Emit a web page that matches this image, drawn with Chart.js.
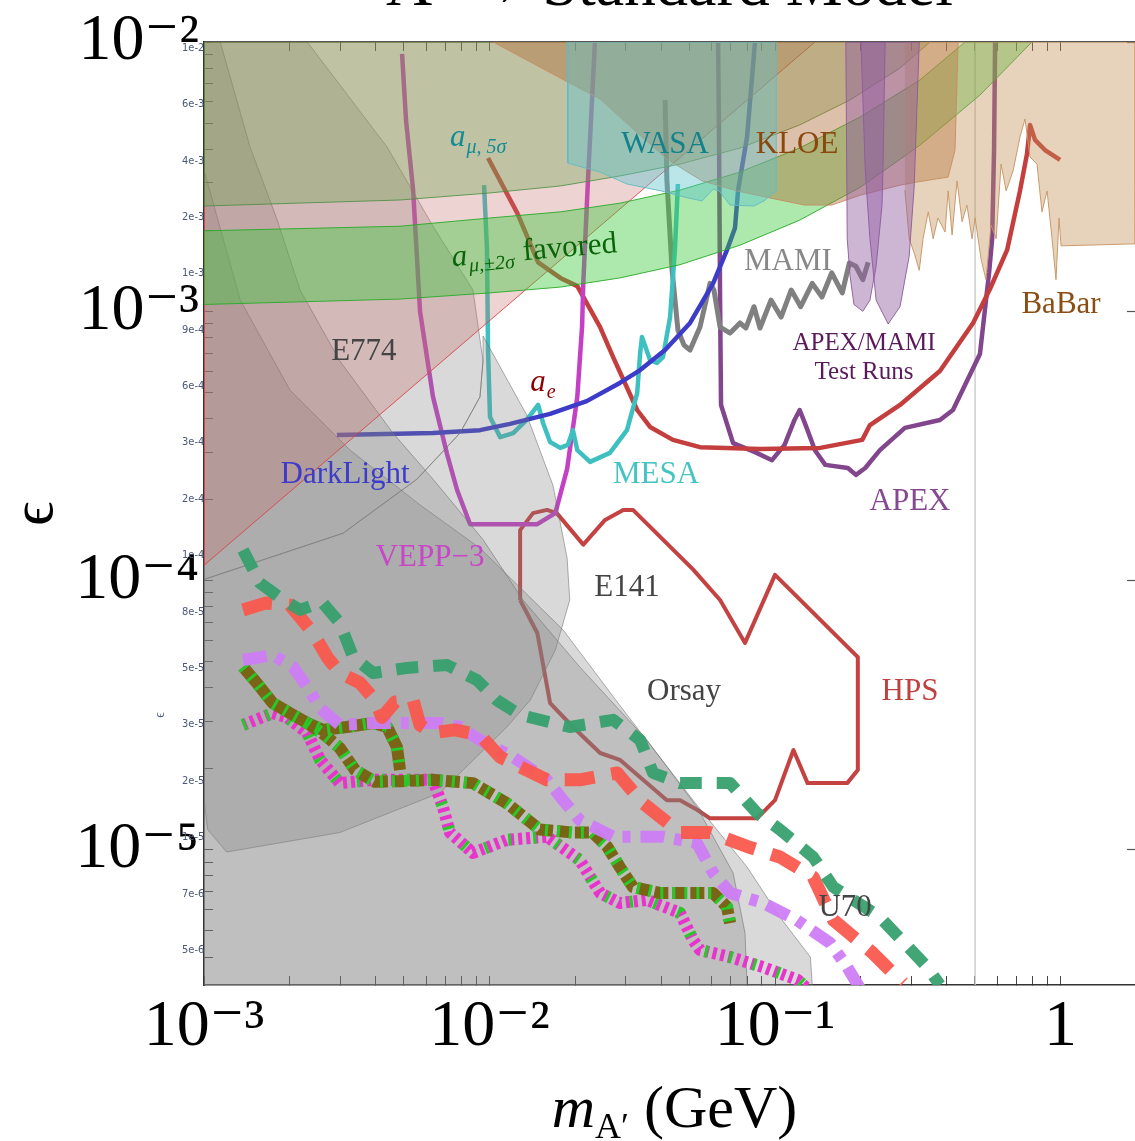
<!DOCTYPE html>
<html>
<head>
<meta charset="utf-8">
<script src="https://cdn.jsdelivr.net/npm/chart.js@4.4.0/dist/chart.umd.min.js"></script>
<style>
html, body { margin: 0; padding: 0; background: #fff; }
#wrap { width: 1135px; height: 1141px; position: relative; }
</style>
</head>
<body>
<div id="wrap"><canvas id="chart"></canvas></div>
<script>
const SERIF = "'Liberation Serif', 'Times New Roman', 'DejaVu Serif', serif";

// axis ranges (GeV, epsilon)
const M_MIN = 1e-3, M_MAX = 1.823;
const EPS_MIN = 3.15e-6, EPS_MAX = 1e-2;
const INSET_LABELS = ['1e-2', '6e-3', '4e-3', '2e-3', '1e-3', '9e-4', '6e-4', '3e-4', '2e-4', '1e-4', '8e-5', '5e-5', '3e-5', '2e-5', '1e-5', '7e-6', '5e-6'];
const INSET_MIN = -0.106, INSET_MAX = 16.62;

// excluded regions
const E774_M = [1e-3, 2.30e-3, 4.38e-3, 6.34e-3, 8.75e-3, 9.49e-3, 9.26e-3, 7.88e-3, 5.57e-3, 3.07e-3, 1e-3];
const E774_EPS = [1e-2, 1e-2, 4.07e-3, 2.07e-3, 1.20e-3, 6.54e-4, 4.81e-4, 3.53e-4, 2.38e-4, 1.50e-4, 1.01e-4];
const ORSAY_M = [1e-3, 1.14e-3, 1.45e-3, 1.80e-3, 2.17e-3, 2.99e-3, 4.59e-3, 6.34e-3, 9.49e-3, 1.31e-2, 2.07e-2, 3.56e-2, 5.33e-2, 7.13e-2, 7.85e-2, 7.98e-2, 1e-3];
const ORSAY_EPS = [1e-2, 1e-2, 4.07e-3, 2.20e-3, 1.20e-3, 6.54e-4, 3.53e-4, 2.38e-4, 1.42e-4, 8.47e-5, 4.78e-5, 2.56e-5, 1.44e-5, 8.21e-6, 4.91e-6, 3.15e-6, 3.15e-6];
const U70_M = [1e-3, 1.34e-3, 2.0e-3, 3.25e-3, 5.71e-3, 9.26e-3, 1.81e-2, 2.94e-2, 5.16e-2, 7.98e-2, 0.104, 0.133, 0.135, 1e-3];
const U70_EPS = [3.35e-3, 1.10e-3, 5.10e-4, 3.05e-4, 1.91e-4, 1.32e-4, 6.56e-5, 3.31e-5, 1.53e-5, 8.64e-6, 5.63e-6, 4.0e-6, 3.15e-6, 3.15e-6];
const E141_M = [9.49e-3, 1.35e-2, 1.67e-2, 1.87e-2, 1.91e-2, 1.70e-2, 1.39e-2, 1.15e-2, 6.71e-3, 2.99e-3, 1.20e-3, 1.03e-3, 1e-3, 1e-3, 3.07e-3, 5.57e-3, 7.88e-3, 9.26e-3, 9.49e-3];
const E141_EPS = [8.10e-4, 4.12e-4, 2.25e-4, 1.21e-4, 8.47e-5, 5.52e-5, 3.60e-5, 2.86e-5, 1.63e-5, 1.16e-5, 9.82e-6, 1.19e-5, 1.53e-5, 1.01e-4, 1.50e-4, 2.38e-4, 3.53e-4, 4.81e-4, 6.54e-4];
const AE_M = [1e-3, 0.138, 1e-3];
const AE_EPS = [1.14e-4, 1e-2, 1e-2];
const AMU5_M = [1e-3, 4.86e-3, 1e-2, 1.77e-2, 2.86e-2, 4.65e-2, 7.54e-2, 0.122, 0.183, 0.274, 0.349];
const AMU5_EPS = [2.46e-3, 2.59e-3, 2.75e-3, 2.92e-3, 3.18e-3, 3.52e-3, 4.04e-3, 4.92e-3, 6.09e-3, 8.0e-3, 1e-2];
const AMU2_UP_M = [1e-3, 4.86e-3, 1e-2, 1.77e-2, 2.86e-2, 4.65e-2, 7.54e-2, 0.122, 0.199, 0.322, 0.463];
const AMU2_UP_EPS = [1.99e-3, 2.07e-3, 2.22e-3, 2.34e-3, 2.52e-3, 2.82e-3, 3.29e-3, 4.04e-3, 5.27e-3, 7.23e-3, 1e-2];
const AMU2_LO_M = [1e-3, 4.86e-3, 1e-2, 1.77e-2, 2.86e-2, 4.65e-2, 7.54e-2, 0.122, 0.199, 0.322, 0.522, 0.794];
const AMU2_LO_EPS = [1.06e-3, 1.11e-3, 1.17e-3, 1.23e-3, 1.33e-3, 1.49e-3, 1.76e-3, 2.18e-3, 2.89e-3, 4.14e-3, 6.35e-3, 1e-2];
const KLOE_M = [1.03e-2, 1.50e-2, 1.91e-2, 2.44e-2, 3.21e-2, 4.22e-2, 5.55e-2, 7.36e-2, 9.68e-2, 0.127, 0.158, 0.199, 0.274, 0.314, 0.404, 0.427, 0.438];
const KLOE_EPS = [1e-2, 8.07e-3, 7.04e-3, 6.14e-3, 4.71e-3, 3.65e-3, 3.05e-3, 2.80e-3, 2.63e-3, 2.48e-3, 2.48e-3, 2.70e-3, 2.94e-3, 3.02e-3, 3.15e-3, 3.97e-3, 1e-2];
const WASA_M = [1.88e-2, 1.88e-2, 2.44e-2, 3.03e-2, 3.99e-2, 5.0e-2, 5.55e-2, 6.07e-2, 6.37e-2, 6.96e-2, 8.44e-2, 9.15e-2, 0.101, 0.101];
const WASA_EPS = [1e-2, 3.55e-3, 3.29e-3, 2.97e-3, 2.80e-3, 2.63e-3, 2.57e-3, 2.84e-3, 2.80e-3, 2.48e-3, 2.46e-3, 2.57e-3, 2.80e-3, 1e-2];
const BABAR_M = [0.285, 0.295, 0.307, 0.320, 0.330, 0.344, 0.358, 0.372, 0.394, 0.404, 0.417, 0.434, 0.452, 0.470, 0.490, 0.502, 0.527, 0.548, 0.571, 0.595, 0.619, 0.645, 0.682, 0.721, 0.751, 0.782, 0.827, 0.861, 0.897, 0.934, 0.964, 0.988, 1.004, 1.82, 1.82, 0.285];
const BABAR_EPS = [2.82e-3, 1.86e-3, 1.65e-3, 1.42e-3, 1.86e-3, 2.34e-3, 1.86e-3, 2.22e-3, 1.97e-3, 2.80e-3, 1.92e-3, 3.05e-3, 2.15e-3, 2.48e-3, 1.86e-3, 2.22e-3, 1.56e-3, 1.31e-3, 2.09e-3, 1.86e-3, 3.52e-3, 2.80e-3, 3.32e-3, 4.44e-3, 5.18e-3, 3.74e-3, 3.52e-3, 2.34e-3, 2.80e-3, 1.86e-3, 1.31e-3, 2.22e-3, 1.75e-3, 1.78e-3, 1e-2, 1e-2];
const APEX_TEST_M = [0.177, 0.179, 0.183, 0.189, 0.203, 0.215, 0.226, 0.237, 0.239, 0.243];
const APEX_TEST_EPS = [1e-2, 1.86e-3, 1.36e-3, 1.06e-3, 1.0e-3, 1.10e-3, 1.47e-3, 2.48e-3, 3.52e-3, 1e-2];
const MAMI_TEST_M = [0.200, 0.207, 0.215, 0.226, 0.249, 0.274, 0.295, 0.307, 0.320];
const MAMI_TEST_EPS = [1e-2, 3.32e-3, 1.86e-3, 1.10e-3, 8.97e-4, 1.04e-3, 1.60e-3, 2.87e-3, 1e-2];

// experiment reach curves
const DL_M = [2.92e-3, 6.34e-3, 9.26e-3, 1.18e-2, 1.63e-2, 2.19e-2, 2.86e-2, 3.37e-2, 4.12e-2, 5.04e-2, 6.07e-2, 6.79e-2, 7.24e-2, 7.42e-2, 7.98e-2, 8.51e-2];
const DL_EPS = [3.47e-4, 3.53e-4, 3.62e-4, 3.82e-4, 4.16e-4, 4.64e-4, 5.42e-4, 6.05e-4, 7.18e-4, 9.05e-4, 1.27e-3, 1.69e-3, 2.04e-3, 2.80e-3, 4.44e-3, 1e-2];
const MESA_M = [9.57e-3, 9.80e-3, 9.88e-3, 1.004e-2, 1.09e-2, 1.21e-2, 1.35e-2, 1.48e-2, 1.54e-2, 1.63e-2, 1.77e-2, 1.88e-2, 1.96e-2, 2.03e-2, 2.25e-2, 2.64e-2, 3.03e-2, 3.29e-2, 3.37e-2, 3.42e-2, 3.65e-2, 3.86e-2, 4.05e-2, 4.29e-2, 4.46e-2, 4.57e-2];
const MESA_EPS = [2.94e-3, 1.69e-3, 7.18e-4, 4.05e-4, 3.41e-4, 3.53e-4, 3.95e-4, 4.49e-4, 3.85e-4, 3.27e-4, 3.11e-4, 3.19e-4, 3.62e-4, 3.05e-4, 2.76e-4, 2.98e-4, 3.62e-4, 4.97e-4, 7.00e-4, 8.03e-4, 6.59e-4, 6.43e-4, 6.76e-4, 9.52e-4, 1.69e-3, 2.97e-3];
const VEPP_M = [4.94e-3, 5.10e-3, 5.40e-3, 5.71e-3, 6.34e-3, 7.10e-3, 7.70e-3, 8.55e-3, 1.47e-2, 1.70e-2, 1.87e-2, 2.03e-2, 2.11e-2, 2.13e-2, 2.21e-2, 2.34e-2];
const VEPP_EPS = [9.03e-3, 5.13e-3, 2.82e-3, 1.0e-3, 4.81e-4, 2.95e-4, 2.17e-4, 1.62e-4, 1.62e-4, 1.78e-4, 2.60e-4, 4.81e-4, 8.82e-4, 1.27e-3, 3.0e-3, 1e-2];
const HPS_TOP_M = [9.88e-3, 1.25e-2, 1.48e-2, 1.77e-2, 2.03e-2, 2.44e-2, 2.71e-2, 3.29e-2, 3.65e-2, 4.39e-2, 5.46e-2, 8.86e-2, 0.144, 0.202, 0.215, 0.274, 0.378, 0.494, 0.566, 0.650, 0.721, 0.763, 0.782, 0.814, 0.882, 0.996];
const HPS_TOP_EPS = [3.71e-3, 2.32e-3, 1.52e-3, 1.33e-3, 1.24e-3, 8.74e-4, 6.76e-4, 4.30e-4, 3.72e-4, 3.33e-4, 3.13e-4, 3.08e-4, 3.11e-4, 3.33e-4, 3.78e-4, 4.49e-4, 6.0e-4, 9.05e-4, 1.21e-3, 1.69e-3, 2.80e-3, 3.84e-3, 4.92e-3, 4.33e-3, 3.97e-3, 3.65e-3];
const HPS_M = [1.28e-2, 1.28e-2, 1.42e-2, 1.59e-2, 1.72e-2, 2.13e-2, 2.54e-2, 2.94e-2, 3.18e-2, 5.16e-2, 6.42e-2, 7.85e-2, 0.100, 0.195, 0.195, 0.179, 0.130, 0.116, 0.100, 8.65e-2, 5.92e-2, 5.33e-2, 4.65e-2, 4.18e-2, 2.86e-2, 2.44e-2, 1.96e-2, 1.63e-2, 1.47e-2, 1.28e-2];
const HPS_EPS = [8.47e-5, 1.54e-4, 1.78e-4, 1.83e-4, 1.78e-4, 1.36e-4, 1.68e-4, 1.83e-4, 1.83e-4, 1.10e-4, 8.47e-5, 5.87e-5, 1.05e-4, 5.20e-5, 1.98e-5, 1.77e-5, 1.77e-5, 2.35e-5, 1.53e-5, 1.31e-5, 1.31e-5, 1.41e-5, 1.53e-5, 1.53e-5, 2.16e-5, 2.29e-5, 2.86e-5, 3.51e-5, 6.39e-5, 8.47e-5];
const MAMI_M = [4.12e-2, 4.18e-2, 4.36e-2, 4.57e-2, 4.80e-2, 5.04e-2, 5.46e-2, 5.92e-2, 6.11e-2, 6.42e-2, 6.96e-2, 7.54e-2, 7.91e-2, 8.44e-2, 8.86e-2, 9.68e-2, 0.105, 0.114, 0.123, 0.135, 0.146, 0.158, 0.172, 0.182, 0.192, 0.203, 0.212];
const MAMI_EPS = [6.09e-3, 3.07e-3, 1.42e-3, 8.52e-4, 7.49e-4, 7.18e-4, 8.74e-4, 1.27e-3, 1.20e-3, 8.74e-4, 8.30e-4, 9.05e-4, 8.67e-4, 1.04e-3, 8.67e-4, 1.10e-3, 9.52e-4, 1.20e-3, 1.04e-3, 1.27e-3, 1.13e-3, 1.39e-3, 1.17e-3, 1.51e-3, 1.47e-3, 1.31e-3, 1.52e-3];
const APEX_M = [6.32e-2, 6.37e-2, 6.42e-2, 6.47e-2, 7.13e-2, 8.51e-2, 9.76e-2, 0.108, 0.117, 0.122, 0.128, 0.138, 0.150, 0.180, 0.192, 0.207, 0.233, 0.285, 0.378, 0.420, 0.522, 0.562, 0.576, 0.585, 0.590];
const APEX_EPS = [1e-2, 3.97e-3, 1.10e-3, 4.49e-4, 3.24e-4, 3.0e-4, 2.80e-4, 3.19e-4, 3.95e-4, 4.30e-4, 3.78e-4, 3.05e-4, 2.69e-4, 2.62e-4, 2.47e-4, 2.62e-4, 3.05e-4, 3.69e-4, 3.95e-4, 4.30e-4, 6.94e-4, 1.39e-3, 1.86e-3, 3.97e-3, 1e-2];
const INSET_EDGE_M = [0.502, 0.502];
const INSET_EDGE_EPS = [EPS_MIN, EPS_MAX];

// future projections (dashed)
const PROJ_GREEN_M = [1.37e-3, 1.57e-3, 1.85e-3, 2.17e-3, 2.59e-3, 2.99e-3, 3.33e-3, 3.91e-3, 5.14e-3, 7.10e-3, 9.04e-3, 1.06e-2, 1.28e-2, 1.91e-2, 2.71e-2, 3.37e-2, 3.74e-2, 4.65e-2, 6.96e-2, 8.65e-2, 0.104, 0.136, 0.160, 0.233, 0.341, 0.378];
const PROJ_GREEN_EPS = [1.30e-4, 9.80e-5, 8.62e-5, 7.78e-5, 8.33e-5, 6.96e-5, 5.20e-5, 4.54e-5, 4.74e-5, 4.86e-5, 4.27e-5, 3.60e-5, 3.17e-5, 2.86e-5, 3.04e-5, 2.56e-5, 1.93e-5, 1.77e-5, 1.77e-5, 1.37e-5, 1.19e-5, 9.41e-6, 7.28e-6, 5.63e-6, 3.67e-6, 3.15e-6];
const PROJ_RED_M = [1.37e-3, 1.64e-3, 2.0e-3, 2.41e-3, 2.70e-3, 2.99e-3, 3.52e-3, 3.97e-3, 4.20e-3, 4.67e-3, 5.40e-3, 5.71e-3, 6.29e-3, 7.57e-3, 9.26e-3, 1.09e-2, 1.59e-2, 2.07e-2, 2.80e-2, 3.45e-2, 4.65e-2, 5.92e-2, 7.98e-2, 0.104, 0.136, 0.160, 0.220, 0.281];
const PROJ_RED_EPS = [7.78e-5, 8.25e-5, 8.11e-5, 6.39e-5, 5.20e-5, 4.54e-5, 4.17e-5, 3.60e-5, 3.11e-5, 3.54e-5, 3.60e-5, 2.91e-5, 2.72e-5, 2.79e-5, 2.67e-5, 2.21e-5, 1.82e-5, 1.82e-5, 1.93e-5, 1.49e-5, 1.16e-5, 1.16e-5, 1.03e-5, 9.41e-6, 7.93e-6, 5.49e-6, 4.14e-6, 3.20e-6];
const PROJ_LAV_M = [1.37e-3, 1.74e-3, 2.05e-3, 2.30e-3, 2.55e-3, 2.99e-3, 3.91e-3, 5.14e-3, 6.71e-3, 7.88e-3, 9.26e-3, 1.21e-2, 1.59e-2, 1.81e-2, 2.07e-2, 2.71e-2, 4.05e-2, 5.33e-2, 6.07e-2, 6.96e-2, 9.08e-2, 0.119, 0.156, 0.179, 0.203];
const PROJ_LAV_EPS = [5.07e-5, 5.29e-5, 4.78e-5, 4.03e-5, 3.36e-5, 2.91e-5, 2.96e-5, 2.96e-5, 2.96e-5, 2.86e-5, 2.56e-5, 2.21e-5, 1.82e-5, 1.53e-5, 1.29e-5, 1.12e-5, 1.12e-5, 1.06e-5, 8.21e-6, 6.92e-6, 6.35e-6, 5.49e-6, 4.51e-6, 3.67e-6, 2.94e-6];
const PROJ_OLIVE_A_M = [1.37e-3, 1.53e-3, 1.74e-3, 2.0e-3, 2.30e-3, 2.61e-3, 3.16e-3, 3.91e-3, 4.38e-3, 4.74e-3, 4.86e-3];
const PROJ_OLIVE_A_EPS = [4.78e-5, 4.17e-5, 3.51e-5, 3.22e-5, 2.96e-5, 2.79e-5, 2.86e-5, 2.96e-5, 2.86e-5, 2.41e-5, 1.98e-5];
const PROJ_OLIVE_B_M = [2.30e-3, 2.65e-3, 2.99e-3, 3.38e-3, 3.97e-3, 4.86e-3, 6.34e-3, 8.75e-3, 1.15e-2, 1.50e-2, 1.96e-2, 2.30e-2, 2.58e-2, 2.86e-2, 3.18e-2, 3.95e-2, 4.92e-2, 6.07e-2, 6.79e-2, 6.96e-2];
const PROJ_OLIVE_B_EPS = [2.96e-5, 2.67e-5, 2.39e-5, 1.98e-5, 1.79e-5, 1.80e-5, 1.82e-5, 1.77e-5, 1.49e-5, 1.19e-5, 1.16e-5, 1.16e-5, 1.03e-5, 8.64e-6, 7.28e-6, 6.92e-6, 6.92e-6, 6.92e-6, 6.14e-6, 5.35e-6];
const PROJ_MAG_M = [1.37e-3, 1.74e-3, 1.95e-3, 2.30e-3, 2.55e-3, 2.99e-3, 3.91e-3, 5.14e-3, 6.34e-3, 6.87e-3, 7.27e-3, 8.75e-3, 1.15e-2, 1.59e-2, 2.07e-2, 2.44e-2, 2.86e-2, 3.56e-2, 4.65e-2, 5.16e-2, 5.46e-2, 6.96e-2, 9.08e-2, 0.120, 0.140];
const PROJ_MAG_EPS = [2.91e-5, 3.22e-5, 3.11e-5, 2.72e-5, 2.16e-5, 1.77e-5, 1.82e-5, 1.82e-5, 1.82e-5, 1.44e-5, 1.16e-5, 9.74e-6, 1.09e-5, 1.12e-5, 9.17e-6, 6.92e-6, 6.35e-6, 6.52e-6, 5.83e-6, 4.63e-6, 4.25e-6, 4.0e-6, 3.67e-6, 3.29e-6, 2.84e-6];

// text labels placed at (mass, epsilon)
const TEXT_LABELS = [
  { text: 'E774', m: 3.63e-3, eps: 7.06e-4, color: '#444444' },
  { text: 'WASA', m: 4.12e-2, eps: 4.14e-3, color: '#14828c' },
  { text: 'KLOE', m: 0.1195, eps: 4.14e-3, color: '#8a480e' },
  { text: 'MAMI', m: 0.111, eps: 1.52e-3, color: '#888888' },
  { text: 'BaBar', m: 1.004, eps: 1.06e-3, color: '#8a4e14' },
  { text: 'APEX/MAMI', m: 0.205, eps: 7.62e-4, color: '#5a1a5a', size: 25 },
  { text: 'Test Runs', m: 0.205, eps: 5.95e-4, color: '#5a1a5a', size: 25 },
  { text: 'DarkLight', m: 3.12e-3, eps: 2.47e-4, color: '#3c3cc8' },
  { text: 'MESA', m: 3.83e-2, eps: 2.47e-4, color: '#46c3c3' },
  { text: 'APEX', m: 0.297, eps: 1.96e-4, color: '#864890' },
  { text: 'VEPP\u22123', m: 6.19e-3, eps: 1.21e-4, color: '#c846c8' },
  { text: 'E141', m: 3.03e-2, eps: 9.39e-5, color: '#444444' },
  { text: 'Orsay', m: 4.80e-2, eps: 3.86e-5, color: '#444444' },
  { text: 'HPS', m: 0.297, eps: 3.86e-5, color: '#c04040' },
  { text: 'U70', m: 0.176, eps: 6.08e-6, color: '#444444' },
  { text: '\u03f5', m: 7.01e-4, eps: 3.17e-5, color: '#4b5878', size: 14, rot: -Math.PI / 2 }
];
const RICH_LABELS = [
  { m: 7.27e-3, eps: 4.11e-3, color: '#128c94', rot: 0,
    parts: [['a', 'italic', 31, 0], ['\u03bc, 5\u03c3', 'italic', 20, 7]] },
  { m: 7.42e-3, eps: 1.47e-3, color: '#0a640a', rot: -0.085,
    parts: [['a', 'italic', 31, 0], ['\u03bc,\u00b12\u03c3', 'italic', 20, 7], [' favored', '', 31, 0]] },
  { m: 1.39e-2, eps: 5.06e-4, color: '#8c0000', rot: 0,
    parts: [['a', 'italic', 31, 0], ['e', 'italic', 20, 7]] }
];

const SUP = { '-': '\u207b', '0': '\u2070', '1': '\u00b9', '2': '\u00b2', '3': '\u00b3', '4': '\u2074', '5': '\u2075', '6': '\u2076', '7': '\u2077', '8': '\u2078', '9': '\u2079' };

function isDecade(v) {
  const e = Math.log10(v);
  return Math.abs(e - Math.round(e)) < 1e-6;
}

function powLabel(v) {
  if (!isDecade(v)) return '';
  const r = Math.round(Math.log10(v));
  if (r === 0) return '1';
  return '10' + String(r).split('').map(c => SUP[c]).join('');
}

function keepDecadeMultiples(scale) {
  scale.ticks = scale.ticks.filter(t => {
    const e = Math.floor(Math.log10(t.value) + 1e-9);
    const s = t.value / Math.pow(10, e);
    return Math.abs(s - Math.round(s)) < 1e-6;
  });
}

function pts(ms, es) {
  return ms.map((m, i) => ({ x: m, y: es[i] }));
}

function closed(ms, es) {
  const p = pts(ms, es);
  p.push({ x: ms[0], y: es[0] });
  return p;
}

function region(label, data, fill, edge, order) {
  return {
    label, data, showLine: true, fill: 'shape', backgroundColor: fill, borderColor: edge,
    borderWidth: 1, pointRadius: 0, order, xAxisID: 'x', yAxisID: 'y'
  };
}

function curve(label, data, color, width, order, dash) {
  return {
    label, data, showLine: true, fill: false, borderColor: color, borderWidth: width,
    borderDash: dash || [], borderCapStyle: 'butt', borderJoinStyle: 'round',
    pointRadius: 0, order, xAxisID: 'x', yAxisID: 'y'
  };
}

const amu5Poly = pts(AMU5_M, AMU5_EPS).concat([{ x: M_MIN, y: EPS_MAX }, { x: AMU5_M[0], y: AMU5_EPS[0] }]);
const amu2Poly = pts(AMU2_UP_M, AMU2_UP_EPS).concat(pts(AMU2_LO_M, AMU2_LO_EPS).reverse());
amu2Poly.push({ x: AMU2_UP_M[0], y: AMU2_UP_EPS[0] });

const GRAY = 'rgba(128,128,128,0.30)', GRAY_EDGE = 'rgba(110,110,110,0.55)';

const datasets = [
  curve('inset edge', pts(INSET_EDGE_M, INSET_EDGE_EPS), 'rgba(200,200,200,0.9)', 1.5, 60),
  // reach curves (under the shaded regions)
  curve('DarkLight', pts(DL_M, DL_EPS), 'rgb(60,60,200)', 4.5, 50),
  curve('MESA', pts(MESA_M, MESA_EPS), 'rgb(62,192,192)', 4.5, 50),
  curve('VEPP-3', pts(VEPP_M, VEPP_EPS), 'rgb(196,64,196)', 4.5, 50),
  curve('HPS upper', pts(HPS_TOP_M, HPS_TOP_EPS), 'rgb(196,62,62)', 4.5, 50),
  curve('HPS', pts(HPS_M, HPS_EPS), 'rgb(196,66,66)', 4, 50),
  curve('MAMI', pts(MAMI_M, MAMI_EPS), 'rgb(128,128,128)', 5, 50),
  curve('APEX', pts(APEX_M, APEX_EPS), 'rgb(130,70,140)', 4.5, 50),
  // shaded regions
  region('Orsay', closed(ORSAY_M, ORSAY_EPS), GRAY, GRAY_EDGE, 46),
  region('U70', closed(U70_M, U70_EPS), GRAY, GRAY_EDGE, 46),
  region('E774', closed(E774_M, E774_EPS), GRAY, GRAY_EDGE, 46),
  region('E141', closed(E141_M, E141_EPS), GRAY, GRAY_EDGE, 46),
  region('a_e', closed(AE_M, AE_EPS), 'rgba(200,110,110,0.30)', 'rgba(215,70,70,0.9)', 45),
  region('a_mu 5 sigma', amu5Poly, 'rgba(105,165,75,0.35)', 'rgba(70,140,60,0.8)', 44),
  region('a_mu favored', amu2Poly, 'rgba(60,200,60,0.42)', 'rgba(40,170,40,0.9)', 44),
  region('KLOE', closed(KLOE_M, KLOE_EPS), 'rgba(175,105,50,0.42)', 'rgba(200,140,100,0.9)', 43),
  region('WASA', closed(WASA_M, WASA_EPS), 'rgba(90,195,205,0.42)', 'rgba(100,185,195,0.9)', 42),
  region('BaBar', BABAR_M.map((m, i) => ({ x: m, y: BABAR_EPS[i] })), 'rgba(195,145,85,0.40)', 'rgba(200,150,100,0.95)', 42),
  region('APEX test', closed(APEX_TEST_M, APEX_TEST_EPS), 'rgba(145,90,160,0.45)', 'rgba(140,90,155,0.9)', 41),
  region('MAMI test', closed(MAMI_TEST_M, MAMI_TEST_EPS), 'rgba(145,90,160,0.45)', 'rgba(140,90,155,0.9)', 41),
  // projections (on top)
  curve('proj magenta', pts(PROJ_MAG_M, PROJ_MAG_EPS), 'rgb(232,52,205)', 12, 9, [4, 4]),
  curve('proj magenta green', pts(PROJ_MAG_M, PROJ_MAG_EPS), 'rgb(40,200,40)', 12, 8, [3, 22]),
  curve('proj olive A', pts(PROJ_OLIVE_A_M, PROJ_OLIVE_A_EPS), 'rgb(122,100,22)', 12, 7),
  curve('proj olive A green', pts(PROJ_OLIVE_A_M, PROJ_OLIVE_A_EPS), 'rgb(40,200,40)', 12, 6, [3, 9]),
  curve('proj olive B', pts(PROJ_OLIVE_B_M, PROJ_OLIVE_B_EPS), 'rgb(122,100,22)', 12, 7, [14, 4]),
  curve('proj olive B green', pts(PROJ_OLIVE_B_M, PROJ_OLIVE_B_EPS), 'rgb(40,200,40)', 12, 6, [3, 9]),
  curve('proj lavender', pts(PROJ_LAV_M, PROJ_LAV_EPS), 'rgba(205,125,245,0.95)', 12, 5, [24, 10, 8, 10]),
  curve('proj red', pts(PROJ_RED_M, PROJ_RED_EPS), 'rgba(250,88,78,0.95)', 13, 4, [30, 17]),
  curve('proj green', pts(PROJ_GREEN_M, PROJ_GREEN_EPS), 'rgba(55,160,110,0.95)', 12, 3, [22, 15])
];

const labelPlugin = {
  id: 'regionLabels',
  afterDatasetsDraw(chart) {
    const ctx = chart.ctx, xs = chart.scales.x, ys = chart.scales.y;
    ctx.save();
    ctx.textAlign = 'center';
    ctx.textBaseline = 'middle';
    for (const L of TEXT_LABELS) {
      ctx.save();
      ctx.translate(xs.getPixelForValue(L.m), ys.getPixelForValue(L.eps));
      if (L.rot) ctx.rotate(L.rot);
      ctx.font = (L.size || 31) + 'px ' + SERIF;
      ctx.fillStyle = L.color;
      ctx.fillText(L.text, 0, 0);
      ctx.restore();
    }
    ctx.textAlign = 'left';
    ctx.textBaseline = 'alphabetic';
    for (const R of RICH_LABELS) {
      ctx.save();
      ctx.translate(xs.getPixelForValue(R.m), ys.getPixelForValue(R.eps));
      if (R.rot) ctx.rotate(R.rot);
      ctx.fillStyle = R.color;
      let cx = 0;
      for (const [t, style, size, dy] of R.parts) {
        ctx.font = (style ? style + ' ' : '') + size + 'px ' + SERIF;
        ctx.fillText(t, cx, dy);
        cx += ctx.measureText(t).width + 1;
      }
      ctx.restore();
    }
    ctx.restore();
  }
};

const xTitlePlugin = {
  id: 'xTitle',
  afterDraw(chart) {
    const ctx = chart.ctx, area = chart.chartArea;
    const parts = [['m', 'italic 60px ' + SERIF, 0], ['A\u2032', '36px ' + SERIF, 11], [' (GeV)', '60px ' + SERIF, 0]];
    ctx.save();
    ctx.fillStyle = '#000';
    ctx.textBaseline = 'alphabetic';
    let w = 0;
    for (const p of parts) { ctx.font = p[1]; w += ctx.measureText(p[0]).width; }
    let cx = (area.left + area.right) / 2 + 5 - w / 2;
    const base = chart.height - 14;
    for (const p of parts) {
      ctx.font = p[1];
      ctx.fillText(p[0], cx, base + p[2]);
      cx += ctx.measureText(p[0]).width;
    }
    ctx.restore();
  }
};

const tickFont = { family: SERIF, size: 66 };
const insetTicks = { display: true, drawOnChartArea: false, drawTicks: true, tickLength: -9, tickColor: '#444', tickWidth: 1 };

new Chart(document.getElementById('chart'), {
  type: 'scatter',
  data: { datasets },
  plugins: [labelPlugin, xTitlePlugin],
  options: {
    responsive: true,
    maintainAspectRatio: false,
    animation: false,
    devicePixelRatio: 1,
    events: [],
    layout: { padding: 0 },
    plugins: {
      legend: { display: false },
      tooltip: { enabled: false },
      title: {
        display: true, text: 'A\u2032 \u2192 Standard Model', fullSize: false, color: '#000',
        font: { family: SERIF, size: 64, weight: 'normal' }, padding: { top: -50.4, bottom: 15.6 }
      }
    },
    scales: {
      x: {
        type: 'logarithmic', position: 'bottom', min: M_MIN, max: M_MAX, z: 1,
        grid: insetTicks,
        border: { display: true, color: '#333', width: 1.5 },
        ticks: { autoSkip: false, maxRotation: 0, padding: 12, color: '#000', font: tickFont, callback: v => powLabel(v) },
        afterBuildTicks: keepDecadeMultiples,
        afterFit: s => { s.height = 156; }
      },
      xTop: {
        type: 'logarithmic', position: 'top', min: M_MIN, max: M_MAX, z: 1,
        grid: insetTicks,
        border: { display: true, color: '#555', width: 1.2 },
        ticks: { display: false },
        afterBuildTicks: keepDecadeMultiples,
        afterFit: s => { s.height = 0; }
      },
      y: {
        type: 'logarithmic', position: 'left', weight: 1, min: EPS_MIN, max: EPS_MAX, z: 1,
        grid: insetTicks,
        border: { display: true, color: '#333', width: 1.5 },
        ticks: { autoSkip: false, padding: 14, color: '#000', font: tickFont, callback: v => powLabel(v) },
        title: { display: true, text: '\u03f5', color: '#000', font: { family: SERIF, size: 60 }, padding: { top: 0, bottom: 0 } },
        afterBuildTicks: keepDecadeMultiples,
        afterFit: s => { s.width = 204; s.paddingTop = 0; s.paddingBottom = 0; }
      },
      yRight: {
        type: 'logarithmic', position: 'right', min: EPS_MIN, max: EPS_MAX, z: 1,
        grid: {
          display: true, drawOnChartArea: false, drawTicks: true, tickLength: -8, tickWidth: 1.2,
          tickColor: c => (c.tick && isDecade(c.tick.value)) ? '#555' : 'rgba(0,0,0,0)'
        },
        border: { display: false },
        ticks: { display: false },
        afterBuildTicks: keepDecadeMultiples,
        afterFit: s => { s.width = 0; s.paddingTop = 0; s.paddingBottom = 0; }
      },
      yInset: {
        type: 'linear', position: 'left', weight: 0, reverse: true, min: INSET_MIN, max: INSET_MAX, z: 2,
        grid: { display: false, drawTicks: false },
        border: { display: false },
        ticks: {
          stepSize: 1, autoSkip: false, includeBounds: false, mirror: true, padding: -22, color: '#4b5878',
          font: { family: "'DejaVu Sans Condensed', 'DejaVu Sans', sans-serif", size: 11 },
          callback: v => { const i = Math.round(v); return Math.abs(v - i) < 1e-6 && INSET_LABELS[i] ? INSET_LABELS[i] : ''; }
        },
        afterFit: s => { s.width = 0; s.paddingTop = 0; s.paddingBottom = 0; }
      }
    }
  }
});
</script>
</body>
</html>
